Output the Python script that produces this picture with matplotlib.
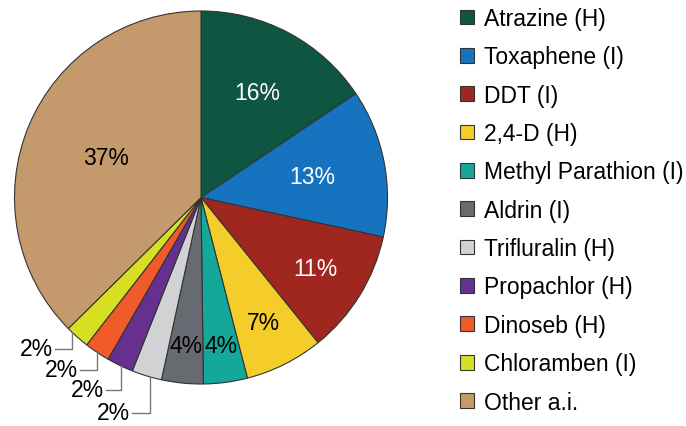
import numpy as np
import matplotlib.pyplot as plt
from matplotlib.patches import Patch

plt.rcParams['font.family'] = ['Liberation Sans', 'DejaVu Sans']

# share of active ingredient use (%)
names = ['Atrazine (H)', 'Toxaphene (I)', 'DDT (I)', '2,4-D (H)',
         'Methyl Parathion (I)', 'Aldrin (I)', 'Trifluralin (H)',
         'Propachlor (H)', 'Dinoseb (H)', 'Chloramben (I)', 'Other a.i.']
shares = [15.6, 12.8, 10.8, 6.8, 3.8, 3.6, 2.6, 2.3, 2.2, 2.1, 37.4]
pct_labels = ['16%', '13%', '11%', '7%', '4%', '4%', '2%', '2%', '2%', '2%', '37%']
colors = ['#0e5641', '#1673bf', '#a0271f', '#f4cd2b', '#14a89b', '#676a71',
          '#d1d2d4', '#66308f', '#f15b29', '#d6df23', '#c49a6c']

W, H = 686, 427
fig = plt.figure(figsize=(W / 100, H / 100), dpi=100)
ax = fig.add_axes([0, 0, 1, 1])

cx, cy, R = 201, H - 198.5, 186.5
wedges, _ = ax.pie(shares, colors=colors, startangle=90, counterclock=False,
                   center=(cx, cy), radius=R, frame=True,
                   wedgeprops=dict(edgecolor='#333333', linewidth=0.8))
ax.set_xlim(0, W)
ax.set_ylim(0, H)
ax.set_aspect('equal')
ax.axis('off')

# labels inside the wedges: (index, radius fraction, colour)
inside = [(0, 0.64, 'white'), (1, 0.61, 'white'), (2, 0.72, 'white'),
          (3, 0.75, 'black'), (4, 0.80, 'black'), (5, 0.80, 'black'),
          (10, 0.55, 'black')]
for i, f, c in inside:
    w = wedges[i]
    mid = np.deg2rad((w.theta1 + w.theta2) / 2)
    ax.text(cx + f * R * np.cos(mid), cy + f * R * np.sin(mid), pct_labels[i],
            color=c, fontsize=16.5, ha='center', va='center')

# small wedges: leader line down from the rim, then left to the label
small = [(9, 0.8, 350, 55), (8, 0.5, 371, 80), (7, 0.45, 391, 106), (6, 0.4, 414, 132)]
for i, frac, ly, lx in small:
    w = wedges[i]
    a = np.deg2rad(w.theta2 + frac * (w.theta1 - w.theta2))
    ex, ey = cx + R * np.cos(a), cy + R * np.sin(a)
    ax.plot([ex, ex, lx], [ey, H - ly, H - ly], color='#777777', lw=1.0)
    ax.text(lx - 2, H - ly, pct_labels[i], fontsize=16.5, ha='right', va='center')

handles = [Patch(facecolor=c, edgecolor='#333333', linewidth=0.8) for c in colors]
fig.legend(handles, names, loc='upper left', bbox_to_anchor=(460 / W, 1 - 8 / H),
           frameon=False, fontsize=16.5, handlelength=0.62, handleheight=0.62,
           handletextpad=0.42, labelspacing=0.67, borderaxespad=0, borderpad=0)

fig.savefig('out.png', dpi=100)
